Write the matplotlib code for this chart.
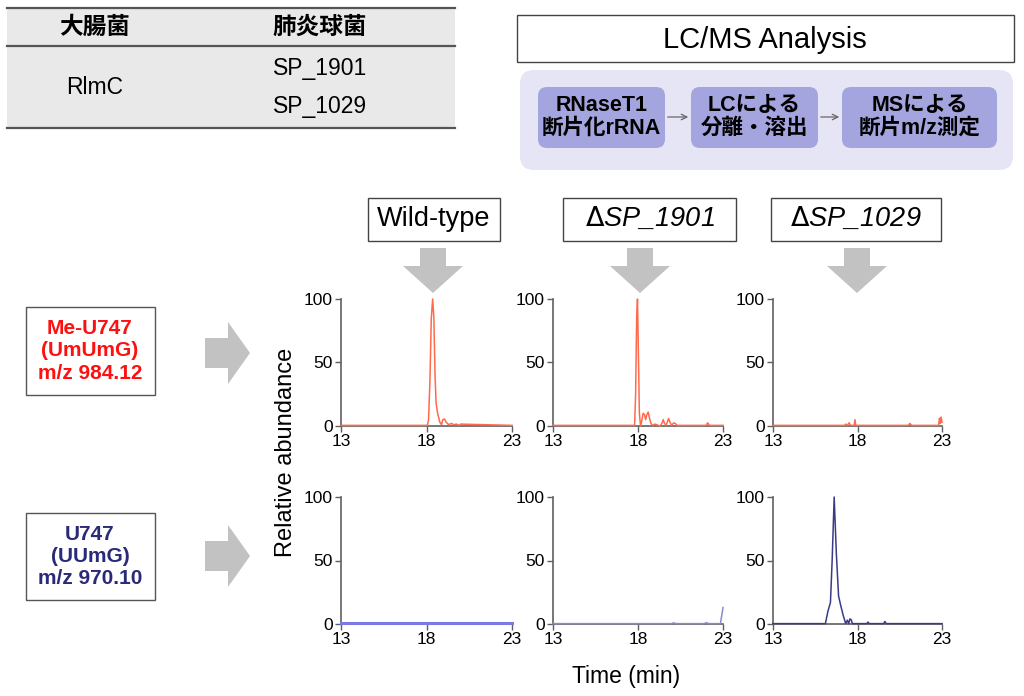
import matplotlib
matplotlib.use('Agg')
import matplotlib.pyplot as plt
from matplotlib.patches import Rectangle, FancyBboxPatch, Polygon

plt.rcParams['font.family'] = ['Liberation Sans', 'Noto Sans CJK JP', 'DejaVu Sans']

W, H = 1024, 696

# chromatogram data (time in min, relative abundance %)
wt_me_t = [13, 18.05, 18.12, 18.2, 18.28, 18.36, 18.43, 18.5, 18.56, 18.65, 18.78, 18.88, 18.95, 19.05, 19.15, 19.3, 19.45, 19.6, 19.75, 19.9, 20.0, 23]
wt_me_y = [0.5, 0.5, 5, 35, 85, 100, 85, 40, 18, 10, 3, 1, 5, 5.5, 3, 1, 2, 1, 1.5, 0.5, 1.5, 0.5]

d1901_me_t = [13, 17.8, 17.86, 17.92, 17.97, 18.02, 18.08, 18.15, 18.22, 18.3, 18.38, 18.45, 18.52, 18.6, 18.68, 18.76, 18.85, 19.0, 19.3, 19.4, 19.48, 19.56, 19.65, 19.72, 19.8, 19.88, 19.98, 20.1, 20.2, 20.3, 22.0, 22.1, 22.2, 23]
d1901_me_y = [0.5, 0.5, 25, 85, 100, 60, 10, 0, 4, 10, 9, 5, 9, 11, 6, 2, 0.5, 1.5, 0, 2, 5, 2, 0.5, 3, 6, 3, 0.5, 2.5, 2, 0.5, 0.5, 2.5, 0.5, 0.5]

d1029_me_t = [13, 17.25, 17.3, 17.4, 17.5, 17.6, 17.8, 17.85, 17.9, 21.0, 21.1, 21.2, 22.8, 22.85, 22.9, 22.95, 23]
d1029_me_y = [0.5, 0.5, 1.5, 0.5, 2.5, 0.5, 0.5, 5, 0.5, 0.5, 2, 0.5, 0.5, 6, 2, 7, 3]

wt_u_t = [13, 23]
wt_u_y = [0.5, 0.5]

d1901_u_t = [13, 20.0, 20.1, 20.2, 21.9, 22.0, 22.2, 22.85, 23]
d1901_u_y = [0.3, 0.3, 1, 0.3, 0.3, 1, 0.3, 0.3, 13]

d1029_u_t = [13, 16.1, 16.25, 16.4, 16.5, 16.62, 16.75, 16.88, 17.0, 17.15, 17.3, 17.4, 17.48, 17.55, 17.62, 17.7, 17.8, 18.55, 18.62, 18.7, 19.55, 19.62, 19.7, 23]
d1029_u_y = [0.3, 0.3, 10, 17, 50, 100, 55, 22, 15, 7, 0.3, 3, 0.3, 4, 3.5, 0.3, 0.3, 0.3, 1.5, 0.3, 0.3, 2, 0.3, 0.3]

strains = ['Wild-type', r'$\Delta$SP_1901', r'$\Delta$SP_1029']
xticks = [13, 18, 23]
yticks = [0, 50, 100]

me_color = '#ff6a4d'
u_colors = ['#7a7ae6', '#8a8ac8', '#3a3a86']

fig = plt.figure(figsize=(W / 100, H / 100), dpi=100)

# overlay in pixel coordinates
ov = fig.add_axes([0, 0, 1, 1], zorder=0)
ov.set_xlim(0, W)
ov.set_ylim(H, 0)
ov.axis('off')

# table top-left
ov.add_patch(Rectangle((7, 8), 448, 120, facecolor='#e9e9e9', edgecolor='none'))
for yy in [8, 46, 128]:
    ov.plot([7, 455], [yy, yy], color='#555555', lw=1.6)
ov.text(95, 27, '大腸菌', fontsize=17, fontweight='bold', ha='center', va='center',
        family=['Noto Sans CJK JP'])
ov.text(320, 27, '肺炎球菌', fontsize=17, fontweight='bold', ha='center', va='center',
        family=['Noto Sans CJK JP'])
ov.text(95, 88, 'RlmC', fontsize=16.5, ha='center', va='center')
ov.text(320, 68, 'SP_1901', fontsize=16.5, ha='center', va='center')
ov.text(320, 107, 'SP_1029', fontsize=16.5, ha='center', va='center')

# LC/MS box
ov.add_patch(Rectangle((517, 15), 497, 47, facecolor='white', edgecolor='#444444', lw=1))
ov.text(765, 40, 'LC/MS Analysis', fontsize=21, ha='center', va='center')
ov.add_patch(FancyBboxPatch((520, 70), 493, 100, boxstyle='round,pad=0,rounding_size=14',
                            facecolor='#e5e5f5', edgecolor='none'))
flow = [(538, 665, 'RNaseT1\n断片化rRNA'), (691, 818, 'LCによる\n分離・溶出'), (842, 997, 'MSによる\n断片m/z測定')]
for x0, x1, label in flow:
    ov.add_patch(FancyBboxPatch((x0, 87), x1 - x0, 61, boxstyle='round,pad=0,rounding_size=9',
                                facecolor='#a4a4de', edgecolor='none'))
    ov.text((x0 + x1) / 2, 117, label, fontsize=15.5, fontweight='bold', ha='center', va='center',
            linespacing=1.1, family=['Liberation Sans', 'Noto Sans CJK JP'])
for xa, xb in [(665, 691), (818, 842)]:
    ov.annotate('', xy=(xb, 117), xytext=(xa, 117),
                arrowprops=dict(arrowstyle='->', color='#666666', lw=0.9))

# strain header boxes and down arrows
headers = [(368, 500, 433), (563, 736, 640), (771, 941, 857)]
for (x0, x1, cx), name in zip(headers, strains):
    ov.add_patch(Rectangle((x0, 198), x1 - x0, 43, facecolor='white', edgecolor='#444444', lw=1))
    ov.text((x0 + x1) / 2, 219, name, fontsize=19.5, ha='center', va='center',
            style='normal' if name == 'Wild-type' else 'italic')
    ov.add_patch(Polygon([(cx - 13, 248), (cx + 13, 248), (cx + 13, 266), (cx + 30, 266),
                          (cx, 293), (cx - 30, 266), (cx - 13, 266)],
                         closed=True, facecolor='#c2c2c2', edgecolor='none'))

# left ion boxes and right arrows
ions = [(307, 395, 'Me-U747\n(UmUmG)\nm/z 984.12', '#ff1010', 353),
        (513, 600, 'U747\n(UUmG)\nm/z 970.10', '#2a2a78', 556)]
for y0, y1, label, col, cy in ions:
    ov.add_patch(Rectangle((26, y0), 129, y1 - y0, facecolor='white', edgecolor='#555555', lw=1))
    ov.text(90, (y0 + y1) / 2, label, fontsize=15, fontweight='bold', color=col,
            ha='center', va='center', linespacing=1.22)
    ov.add_patch(Polygon([(205, cy - 15), (228, cy - 15), (228, cy - 31), (250, cy),
                          (228, cy + 31), (228, cy + 15), (205, cy + 15)],
                         closed=True, facecolor='#c2c2c2', edgecolor='none'))

# chromatogram panels
col_x = [(341, 512), (553, 723), (773, 942)]
rows = [(299, 426, [(wt_me_t, wt_me_y), (d1901_me_t, d1901_me_y), (d1029_me_t, d1029_me_y)],
         [me_color] * 3),
        (497, 624, [(wt_u_t, wt_u_y), (d1901_u_t, d1901_u_y), (d1029_u_t, d1029_u_y)],
         u_colors)]

for ytop, ybot, traces, colors in rows:
    for (x0, x1), (t, y), c in zip(col_x, traces, colors):
        ax = fig.add_axes([x0 / W, 1 - ybot / H, (x1 - x0) / W, (ybot - ytop) / H], zorder=2)
        ax.patch.set_alpha(0)
        lw = 2.2 if t is wt_u_t else 1.1
        ax.plot(t, y, color=c, lw=lw, clip_on=False, zorder=3)
        ax.set_xlim(13, 23)
        ax.set_ylim(0, 100)
        ax.set_xticks(xticks)
        ax.set_yticks(yticks)
        for s in ['top', 'right']:
            ax.spines[s].set_visible(False)
        for s in ['left', 'bottom']:
            ax.spines[s].set_color('#606060')
            ax.spines[s].set_linewidth(1.2)
        ax.tick_params(direction='out', length=4, width=1, color='#606060',
                       labelsize=12.5, pad=2)

fig.text(286 / W, 1 - 452 / H, 'Relative abundance', fontsize=17, rotation=90,
         ha='center', va='center')
fig.text(626 / W, 1 - 677 / H, 'Time (min)', fontsize=16.5, ha='center', va='center')

fig.savefig('out.png', dpi=100)
